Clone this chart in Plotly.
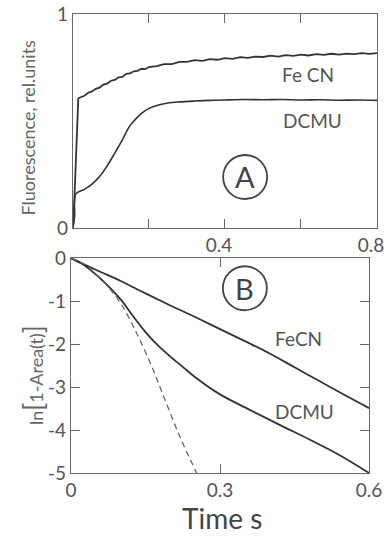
import plotly.graph_objects as go

# ---------------- Panel A data (fluorescence induction) ----------------
tA_fecn = [0.0, 0.004, 0.014, 0.02, 0.03, 0.04, 0.05, 0.06, 0.07, 0.08, 0.09, 0.10, 0.11, 0.12,
           0.13, 0.14, 0.15, 0.16, 0.17, 0.18, 0.19, 0.20, 0.22, 0.24, 0.26, 0.28, 0.30,
           0.32, 0.34, 0.36, 0.38, 0.40, 0.42, 0.44, 0.46, 0.48, 0.50, 0.52, 0.54, 0.56,
           0.58, 0.60, 0.62, 0.64, 0.66, 0.68, 0.70, 0.72, 0.74, 0.76, 0.78, 0.80]
fA_fecn = [0.0, 0.15, 0.606, 0.612, 0.618, 0.632, 0.638, 0.650, 0.656, 0.670, 0.674, 0.688, 0.692, 0.704,
           0.706, 0.720, 0.722, 0.732, 0.734, 0.744, 0.742, 0.752, 0.756, 0.766, 0.766, 0.776, 0.776,
           0.784, 0.781, 0.789, 0.786, 0.794, 0.790, 0.798, 0.795, 0.801, 0.799, 0.805, 0.801, 0.808,
           0.804, 0.810, 0.806, 0.812, 0.809, 0.814, 0.810, 0.815, 0.812, 0.817, 0.814, 0.817]

tA_dcmu = [0.0, 0.004, 0.008, 0.03, 0.05, 0.07, 0.09, 0.11, 0.13, 0.15, 0.17, 0.19, 0.21,
           0.23, 0.25, 0.28, 0.32, 0.36, 0.40, 0.45, 0.50, 0.55, 0.60, 0.65, 0.70, 0.75, 0.80]
fA_dcmu = [0.0, 0.05, 0.160, 0.180, 0.205, 0.240, 0.290, 0.350, 0.412, 0.478, 0.518, 0.548, 0.566,
           0.577, 0.584, 0.589, 0.593, 0.596, 0.598, 0.600, 0.599, 0.600, 0.598, 0.599, 0.597, 0.598, 0.596]

# ---------------- Panel B data (ln[1-Area(t)]) ----------------
tB_fecn = [0.0, 0.05, 0.10, 0.15, 0.20, 0.25, 0.30, 0.35, 0.40, 0.45, 0.50, 0.55, 0.60]
lB_fecn = [0.0, -0.27, -0.53, -0.82, -1.10, -1.37, -1.65, -1.93, -2.22, -2.54, -2.86, -3.18, -3.49]

tB_dcmu = [0.0, 0.025, 0.05, 0.075, 0.10, 0.125, 0.15, 0.175, 0.20, 0.225, 0.25, 0.30,
           0.36, 0.42, 0.48, 0.54, 0.60]
lB_dcmu = [0.0, -0.15, -0.38, -0.65, -0.96, -1.35, -1.72, -2.03, -2.29, -2.53, -2.77, -3.17,
           -3.53, -3.88, -4.22, -4.58, -5.0]

tB_dash = [0.0, 0.025, 0.05, 0.075, 0.10, 0.129, 0.16, 0.186, 0.219, 0.253]
lB_dash = [0.0, -0.13, -0.37, -0.67, -1.05, -1.67, -2.45, -3.2, -4.15, -5.0]

# tick labels
xA_ticks = [0.2, 0.4, 0.6, 0.8]
xA_text = ["", "0.4", "", "0.8"]
yA_ticks = [0, 1]
yA_text = ["0", "1"]
xB_ticks = [0, 0.3, 0.6]
xB_text = ["0", "0.3", "0.6"]
yB_ticks = [0, -1, -2, -3, -4, -5]
yB_text = ["0", "-1", "-2", "-3", "-4", "-5"]

FONT = "Lato"
TXT = "#555555"
CURVE = "#333333"
FRAME = "#6a6a6a"

fig = go.Figure()
fig.add_trace(go.Scatter(x=tA_fecn, y=fA_fecn, mode="lines", line=dict(color=CURVE, width=1.8), xaxis="x", yaxis="y"))
fig.add_trace(go.Scatter(x=tA_dcmu, y=fA_dcmu, mode="lines", line=dict(color=CURVE, width=1.6, shape="spline"), xaxis="x", yaxis="y"))
fig.add_trace(go.Scatter(x=tB_fecn, y=lB_fecn, mode="lines", line=dict(color=CURVE, width=1.8, shape="spline"), xaxis="x2", yaxis="y2"))
fig.add_trace(go.Scatter(x=tB_dcmu, y=lB_dcmu, mode="lines", line=dict(color=CURVE, width=1.8, shape="spline", smoothing=1.0), xaxis="x2", yaxis="y2"))
fig.add_trace(go.Scatter(x=tB_dash, y=lB_dash, mode="lines", line=dict(color="#666666", width=1.3, dash="6px,4px", shape="spline"), xaxis="x2", yaxis="y2"))

axis_common = dict(showline=True, linecolor=FRAME, linewidth=1.4, mirror="ticks", showgrid=False,
                   zeroline=False, ticks="inside", ticklen=9, tickcolor=FRAME, tickwidth=1.3,
                   automargin=False, ticklabeloverflow="allow",
                   tickfont=dict(family=FONT, size=19, color=TXT))

fig.update_layout(
    width=389, height=537,
    margin=dict(l=71, r=12, t=14, b=64, autoexpand=False),
    paper_bgcolor="white", plot_bgcolor="white",
    showlegend=False,
    xaxis=dict(axis_common, domain=[0.0065, 1.0], range=[0, 0.8], anchor="y",
               tickmode="array", tickvals=xA_ticks, ticktext=xA_text, ticklabelshift=-6),
    yaxis=dict(axis_common, domain=[0.534, 1.0], range=[0, 1], anchor="x",
               tickmode="array", tickvals=yA_ticks, ticktext=yA_text, ticks=""),
    xaxis2=dict(axis_common, domain=[0.0, 0.974], range=[0, 0.6], anchor="y2",
                tickmode="array", tickvals=xB_ticks, ticktext=xB_text),
    yaxis2=dict(axis_common, domain=[0.0, 0.468], range=[-5, 0], anchor="x2",
                tickmode="array", tickvals=yB_ticks, ticktext=yB_text),
)

ann_font = dict(family=FONT, size=19, color=TXT)
# curve labels
fig.add_annotation(x=0.618, y=0.715, xref="x", yref="y", text="Fe CN", showarrow=False, font=ann_font)
fig.add_annotation(x=0.629, y=0.50, xref="x", yref="y", text="DCMU", showarrow=False, font=ann_font)
fig.add_annotation(x=0.457, y=-1.86, xref="x2", yref="y2", text="FeCN", showarrow=False, font=ann_font)
fig.add_annotation(x=0.471, y=-3.58, xref="x2", yref="y2", text="DCMU", showarrow=False, font=ann_font)

# panel letters in circles
fig.add_annotation(x=0.453, y=0.238, xref="x", yref="y", text="A", showarrow=False,
                   font=dict(family=FONT, size=29, color="#444444"))
fig.add_annotation(x=0.35, y=-0.70, xref="x2", yref="y2", text="B", showarrow=False,
                   font=dict(family=FONT, size=29, color="#444444"))
for xr, yr, cx, cy in [("x", "y", 0.453, 0.238), ("x2", "y2", 0.35, -0.70)]:
    fig.add_shape(type="circle", xref=xr, yref=yr, xsizemode="pixel", ysizemode="pixel",
                  xanchor=cx, yanchor=cy, x0=-22, x1=22, y0=-22, y1=22,
                  line=dict(color="#444444", width=1.8))

# axis titles
fig.add_annotation(x=-0.1405, y=0.7527, xref="paper", yref="paper", text="Fluorescence, rel.units",
                   xanchor="center", yanchor="middle",
                   textangle=-90, showarrow=False, font=dict(family=FONT, size=18, color="#666666"))
fig.add_annotation(x=-0.124, y=0.2135, xref="paper", yref="paper",
                   text='ln<span style="font-size:26px">[</span>1-Area(t)<span style="font-size:26px">]</span>',
                   xanchor="center", yanchor="middle",
                   textangle=-90, showarrow=False, font=dict(family=FONT, size=18, color="#666666"))
fig.add_annotation(x=0.493, y=-0.099, xref="paper", yref="paper", text="Time s",
                   xanchor="center", yanchor="middle",
                   showarrow=False, font=dict(family=FONT, size=28, color="#444444"))

fig.write_html("out.html")
